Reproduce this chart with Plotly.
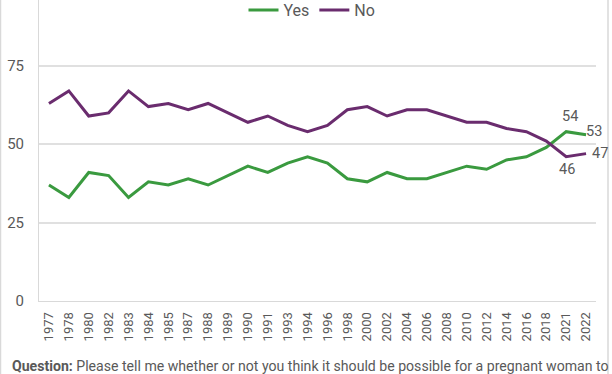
import plotly.graph_objects as go

years = ["1977", "1978", "1980", "1982", "1983", "1984", "1985", "1987", "1988", "1989",
         "1990", "1991", "1993", "1994", "1996", "1998", "2000", "2002", "2004", "2006",
         "2008", "2010", "2012", "2014", "2016", "2018", "2021", "2022"]
yes = [37, 33, 41, 40, 33, 38, 37, 39, 37, 40, 43, 41, 44, 46, 44, 39, 38, 41, 39, 39,
       41, 43, 42, 45, 46, 49, 54, 53]
no = [63, 67, 59, 60, 67, 62, 63, 61, 63, 60, 57, 59, 56, 54, 56, 61, 62, 59, 61, 61,
      59, 57, 57, 55, 54, 51, 46, 47]

GREEN = "#3a9a3f"
PURPLE = "#6a2c6e"
TXT = "#595959"
FONT = "Roboto"

fig = go.Figure()
fig.add_trace(go.Scatter(x=years, y=yes, name="Yes", mode="lines",
                         line=dict(color=GREEN, width=3)))
fig.add_trace(go.Scatter(x=years, y=no, name="No", mode="lines",
                         line=dict(color=PURPLE, width=3)))

# data labels (category axis: use index positions)
n = len(years)
lab = dict(size=14.5, color=TXT, family=FONT)
fig.add_annotation(x=n - 2, y=yes[-2], text=str(yes[-2]), showarrow=False,
                   yshift=15, xshift=4, font=lab)
fig.add_annotation(x=n - 1, y=yes[-1], text=str(yes[-1]), showarrow=False,
                   xanchor="left", xshift=-2, yshift=3, font=lab)
fig.add_annotation(x=n - 2, y=no[-2], text=str(no[-2]), showarrow=False,
                   yshift=-13, xshift=1, font=lab)
fig.add_annotation(x=n - 1, y=no[-1], text=str(no[-1]), showarrow=False,
                   xanchor="left", xshift=4, yshift=0, font=lab)

# question text
fig.add_annotation(xref="paper", yref="paper", x=(10 - 39) / 557, y=(301 - 366) / 301,
                   xanchor="left", yanchor="middle", showarrow=False,
                   text="<b>Question:</b> Please tell me whether or not you think it should be possible for a pregnant woman to",
                   font=dict(size=14.1, color=TXT, family=FONT))

# frame lines
for xp in [(0.5 - 39) / 557, (608 - 39) / 557]:
    fig.add_shape(type="line", xref="paper", yref="paper", x0=xp, x1=xp, y0=-0.3, y1=1.1,
                  line=dict(color="#d9d9d9", width=1.5))

fig.update_layout(
    width=612, height=374,
    margin=dict(l=39, r=16, t=0, b=73, autoexpand=False),
    paper_bgcolor="white", plot_bgcolor="white",
    font=dict(family=FONT, color=TXT, size=12),
    showlegend=True,
    legend=dict(orientation="h", x=(312 - 39) / 557, xanchor="center",
                yref="container", y=1 - 10 / 374, yanchor="middle",
                font=dict(size=16, color=TXT, family=FONT), bgcolor="rgba(0,0,0,0)",
                itemwidth=30, tracegroupgap=0),
    xaxis=dict(type="category", range=[-0.5, 27.5], tickangle=-90, showgrid=False,
               showline=True, linecolor="#d9d9d9", linewidth=1, ticks="", automargin=False,
               ticklabelstandoff=5,
               tickfont=dict(size=13, color=TXT, family=FONT), fixedrange=True),
    yaxis=dict(range=[0, 96], tickvals=[0, 25, 50, 75], showgrid=True, gridcolor="#e0e0e0",
               gridwidth=1.5, showline=True, linecolor="#d9d9d9", linewidth=1, automargin=False,
               zeroline=False, ticks="", ticklabelstandoff=11,
               tickfont=dict(size=15, color=TXT, family=FONT)),
)

fig.write_html("out.html", config={"displayModeBar": False},
               post_script="document.body.style.margin='0';document.body.style.overflow='hidden';")
